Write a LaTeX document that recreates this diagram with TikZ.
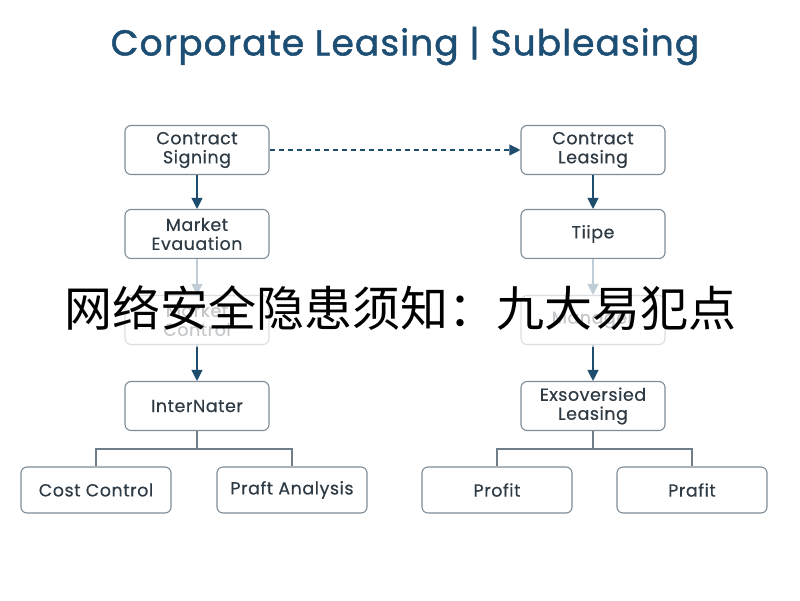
\documentclass[tikz,border=0pt]{standalone}
\usepackage{fontspec}
\setmainfont{Poppins}
\newfontfamily\cjk{Noto Sans CJK SC}
\newfontfamily\titlefont[LetterSpace=3,FakeBold=1.3]{Poppins}
\newfontfamily\boxfont[LetterSpace=3,FakeBold=0.4]{Poppins}
\usetikzlibrary{arrows.meta}
\definecolor{titleblue}{HTML}{1D4E73}
\definecolor{boxline}{HTML}{7D8C97}
\definecolor{boxtext}{HTML}{2E3A44}
\definecolor{arrowblue}{HTML}{1F4D6E}
\definecolor{treeline}{HTML}{6F7E89}
\tikzset{
  box/.style={draw=boxline, line width=1.1pt, rounded corners=6pt, fill=white,
    minimum width=144pt, minimum height=49pt, align=center, text=boxtext,
    font=\boxfont\fontsize{17.5}{19}\selectfont, inner sep=2pt},
  leaf/.style={box, minimum width=150pt, minimum height=46pt},
  flow/.style={draw=arrowblue!85!white, line width=1.1pt, -{Triangle[width=11pt,length=11pt]}, arrowblue},
  dflow/.style={flow, dashed, dash pattern=on 5pt off 4pt},
  tree/.style={draw=treeline, line width=1.1pt},
}
\begin{document}
\begin{tikzpicture}[x=1pt,y=-1pt]
\useasboundingbox (0,0) rectangle (800,600);
\fill[white] (0,0) rectangle (800,600);
\node[font=\titlefont\fontsize{36}{42}\selectfont, text=titleblue] (title) at (405,46) {Corporate Leasing | Subleasing};
% left column
\node[box] (l1) at (197,150) {Contract\\Signing};
\node[box] (l2) at (197,234) {Market\\Evauation};
\node[box] (l3) at (197,320) {Market\\Control};
\node[box] (l4) at (197,406) {InterNater};
\node[leaf] (l5) at (96,490) {Cost Control};
\node[leaf] (l6) at (292,490) {Praft Analysis};
% right column
\node[box] (r1) at (593,150) {Contract\\Leasing};
\node[box] (r2) at (593,234) {Tiipe};
\node[box] (r3) at (593,320) {Manager};
\node[box] (r4) at (593,406) {Exsoversied\\Leasing};
\node[leaf] (r5) at (497,490) {Profit};
\node[leaf] (r6) at (692,490) {Prafit};
% connectors
\draw[flow] (l1) -- (l2);
\draw[flow] (l2) -- (l3);
\draw[flow] (l3) -- (l4);
\draw[flow] (r1) -- (r2);
\draw[flow] (r2) -- (r3);
\draw[flow] (r3) -- (r4);
\draw[dflow] (l1) -- (r1);
\coordinate (lj) at (197,449);
\coordinate (rj) at (593,449);
\draw[tree] (l4.south) -- (lj) -| (l5.north);
\draw[tree] (lj) -| (l6.north);
\draw[tree] (r4.south) -- (rj) -| (r5.north);
\draw[tree] (rj) -| (r6.north);
% fading band
\fill[white, opacity=0.72] (0,259) rectangle (800,347);
\node[font=\cjk\fontsize{48}{56}\selectfont, text=black] (banner) at (400,308) {网络安全隐患须知：九大易犯点};
\end{tikzpicture}
\end{document}
